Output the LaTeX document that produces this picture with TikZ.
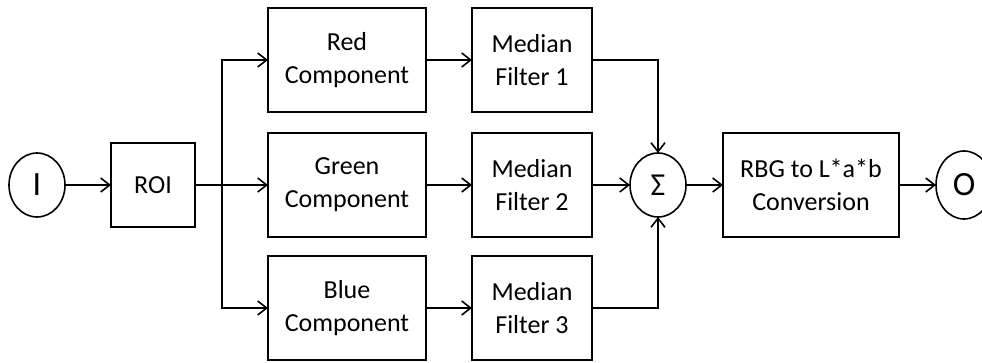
\documentclass[tikz,border=0pt]{standalone}
\usepackage{fontspec}
\setmainfont{Carlito}
\usetikzlibrary{positioning,shapes.geometric,arrows.meta}

\begin{document}
\begin{tikzpicture}[x=1pt, y=1pt, ->, >={Straight Barb[length=9pt,width=14pt]}, line width=1.6pt,
		block/.style={draw, rectangle, minimum width=158pt, minimum height=104pt, inner sep=0pt, outer sep=0pt, align=center, font=\fontsize{26}{33}\selectfont},
		filt/.style={block, minimum width=120pt},
		port/.style={draw, ellipse, minimum width=56pt, minimum height=64pt, inner sep=0pt, outer sep=0pt, font=\fontsize{34}{34}\selectfont}]
				\useasboundingbox (0,0) rectangle (982,-362);

				\node[port]                           (I)    at (37,-185) {I};
				\node[block, minimum width=84pt, minimum height=84pt] (ROI) [right=46pt of I] {ROI};
				\coordinate[right=27pt of ROI]        (split);
				\node[block] (G) [right=73pt of ROI]  {Green\\Component};
				\node[block] (R) [above=21pt of G]    {Red\\Component};
				\node[block] (B) [below=19pt of G]    {Blue\\Component};
				\node[filt]  (M1) [right=46pt of R]   {Median\\Filter 1};
				\node[filt]  (M2) [right=46pt of G]   {Median\\Filter 2};
				\node[filt]  (M3) [right=46pt of B]   {Median\\Filter 3};
				\node[port, font=\fontsize{32}{32}\selectfont] (S) [right=38pt of M2] {Σ};
				\node[block, minimum width=176pt] (C) [right=37pt of S] {RBG to L*a*b\\Conversion};
				\node[port, minimum height=68pt] (O) [right=37pt of C] {O};

				\draw (I) -- (ROI);
				\draw[-] (ROI) -- (split);
				\draw (split) |- (R);
				\draw (split) -- (G);
				\draw (split) |- (B);
				\draw (R) -- (M1);
				\draw (G) -- (M2);
				\draw (B) -- (M3);
				\draw (M1) -| (S);
				\draw (M2) -- (S);
				\draw (M3) -| (S);
				\draw (S) -- (C);
				\draw (C) -- (O);

			\end{tikzpicture}
\end{document}
